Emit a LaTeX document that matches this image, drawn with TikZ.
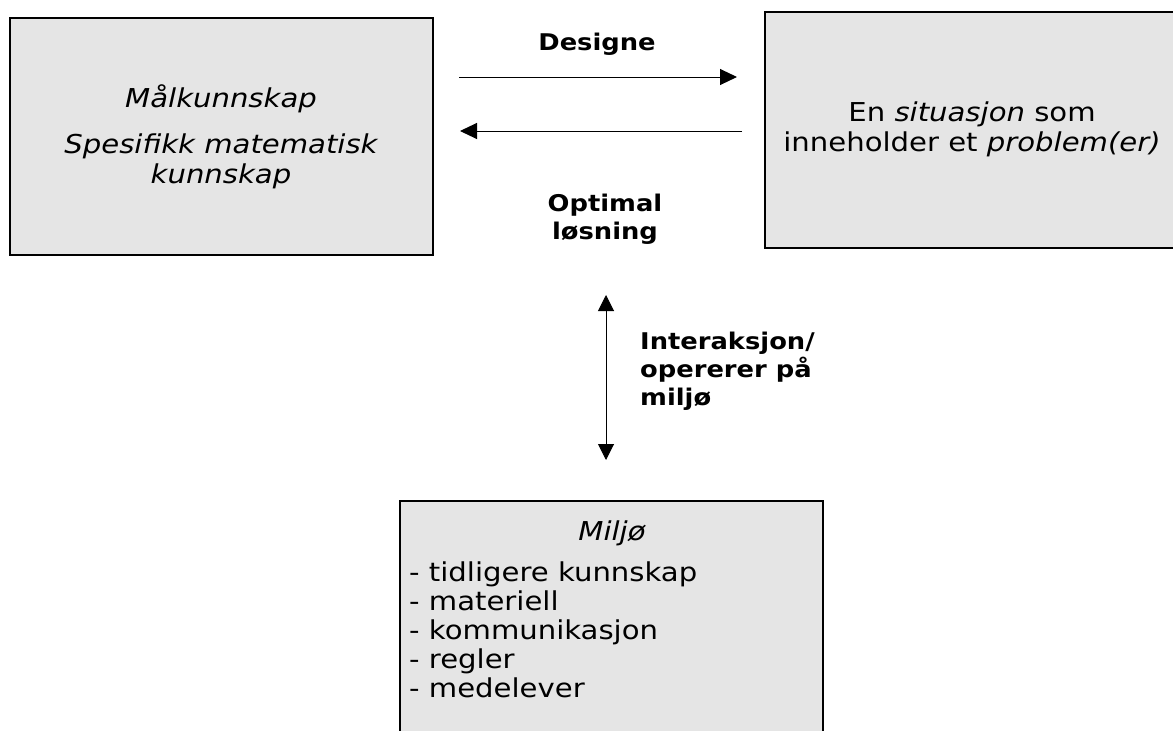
\documentclass[tikz,border=0pt]{standalone}
\usepackage{fontspec}
\setmainfont[FakeStretch=1.12]{DejaVu Sans}
\usetikzlibrary{arrows.meta}
\definecolor{boxgray}{HTML}{E5E5E5}
\tikzset{
  box/.style={draw=black, line width=2.5pt, fill=boxgray, rectangle, inner sep=0pt},
  maintext/.style={font=\fontsize{26}{30}\selectfont, align=center, inner sep=0pt},
  lbl/.style={font=\fontsize{23}{28}\selectfont\bfseries, inner sep=0pt},
  arr/.style={line width=1pt, -{Triangle[length=17pt,width=16pt]}},
  darr/.style={line width=1pt, {Triangle[length=16pt,width=16pt]}-{Triangle[length=16pt,width=16pt]}}
}
\begin{document}
\begin{tikzpicture}[x=1pt,y=-1pt]
\useasboundingbox (0,0) rectangle (1173,731);
\clip (0,0) rectangle (1173,731);
% boxes
\node[box, minimum width=423pt, minimum height=237pt] (goal) at (221.5,136.5) {};
\node[box, minimum width=415pt, minimum height=236pt] (sit) at (972.5,130) {};
\node[box, minimum width=423pt, minimum height=280pt] (env) at (611.5,641) {};
% box texts
\node[maintext] (goalA) at (221,99) {\itshape Målkunnskap};
\node[maintext] (goalB) at (221,161) {\itshape Spesifikk matematisk\\\itshape kunnskap};
\node[maintext] (sitT) at (972,129) {En \textit{situasjon} som\\inneholder et \textit{problem(er)}};
\node[maintext] (envT) at (612,533) {\itshape Miljø};
\node[font=\fontsize{26}{29}\selectfont, align=left, inner sep=0pt, anchor=north west] (envL) at (409,562)
  {- tidligere kunnskap\\- materiell\\- kommunikasjon\\- regler\\- medelever};
% arrows
\coordinate (d1) at (459,77);
\coordinate (d2) at (737,77);
\coordinate (o1) at (742,131);
\coordinate (o2) at (460,131);
\coordinate (v1) at (606,295);
\coordinate (v2) at (606,460);
\draw[arr] (d1) -- (d2);
\draw[arr] (o1) -- (o2);
\draw[darr] (v1) -- (v2);
% labels
\node[lbl] (des) at (597,44) {Designe};
\node[lbl, align=center] (opt) at (605,219) {Optimal\\løsning};
\node[lbl, align=left, anchor=north west] (inter) at (640,332) {Interaksjon/\\opererer på\\miljø};
\end{tikzpicture}
\end{document}
